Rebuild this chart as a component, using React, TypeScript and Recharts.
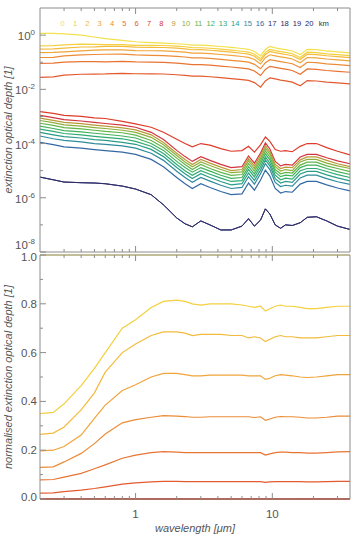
import { LineChart, Line, XAxis, YAxis, Legend } from "recharts";

// wavelength grid in micrometres
const wavelength = [
  0.2, 0.25, 0.3, 0.4, 0.5, 0.6, 0.8, 1.0, 1.3, 1.6, 2.0, 2.3, 2.6, 3.0, 3.5, 4.2, 5.0,
  6.0, 6.7, 7.4, 8.2, 8.9, 9.6, 10.5, 11.5, 12.5, 14, 16, 18, 21, 25, 30, 37,
];

// total column optical depth from the ground (0 km)
const tau0km = [
  1.15, 1.15, 1.12, 1.0, 0.85, 0.74, 0.64, 0.57, 0.53, 0.51, 0.48, 0.46, 0.43, 0.43, 0.41, 0.38, 0.35,
  0.32, 0.3, 0.25, 0.17, 0.3, 0.38, 0.34, 0.31, 0.29, 0.26, 0.19, 0.3, 0.29, 0.26, 0.24, 0.22,
];

// optical depth above 1..6 km relative to the ground value
const ratio1km = [
  0.35, 0.355, 0.39, 0.465, 0.535, 0.6, 0.7, 0.735, 0.785, 0.81, 0.815, 0.81, 0.8, 0.795, 0.8, 0.8, 0.8,
  0.795, 0.79, 0.785, 0.79, 0.77, 0.78, 0.79, 0.795, 0.79, 0.79, 0.785, 0.78, 0.78, 0.785, 0.79, 0.79,
];
const ratio2km = [
  0.265, 0.27, 0.295, 0.365, 0.435, 0.52, 0.6, 0.635, 0.67, 0.685, 0.685, 0.68, 0.67, 0.675, 0.675, 0.675, 0.67,
  0.67, 0.66, 0.665, 0.66, 0.645, 0.655, 0.665, 0.67, 0.665, 0.665, 0.66, 0.66, 0.66, 0.665, 0.67, 0.67,
];
const ratio3km = [
  0.197, 0.2, 0.215, 0.262, 0.33, 0.385, 0.445, 0.468, 0.5, 0.515, 0.515, 0.51, 0.505, 0.505, 0.508, 0.508, 0.508,
  0.508, 0.505, 0.505, 0.505, 0.49, 0.495, 0.505, 0.51, 0.508, 0.505, 0.5, 0.498, 0.5, 0.505, 0.51, 0.51,
];
const ratio4km = [
  0.13, 0.132, 0.152, 0.187, 0.227, 0.266, 0.312, 0.325, 0.335, 0.342, 0.34, 0.338, 0.335, 0.335, 0.337, 0.337, 0.337,
  0.337, 0.337, 0.334, 0.337, 0.322, 0.328, 0.335, 0.338, 0.337, 0.337, 0.335, 0.332, 0.332, 0.335, 0.34, 0.34,
];
const ratio5km = [
  0.078, 0.08, 0.09, 0.105, 0.124, 0.14, 0.167, 0.18, 0.19, 0.194, 0.192, 0.19, 0.19, 0.19, 0.19, 0.19, 0.19,
  0.19, 0.19, 0.19, 0.19, 0.18, 0.185, 0.19, 0.192, 0.192, 0.19, 0.19, 0.188, 0.188, 0.19, 0.193, 0.194,
];
const ratio6km = [
  0.024, 0.025, 0.03, 0.036, 0.043, 0.05, 0.061, 0.066, 0.07, 0.072, 0.072, 0.071, 0.071, 0.071, 0.071, 0.071, 0.071,
  0.071, 0.071, 0.071, 0.071, 0.068, 0.07, 0.071, 0.071, 0.071, 0.071, 0.071, 0.07, 0.07, 0.071, 0.072, 0.072,
];

// optical depth above 7..20 km
const tau7km = [
  1.5e-3, 1.3e-3, 1.1e-3, 1.0e-3, 8.9e-4, 8.4e-4, 6.6e-4, 5.3e-4, 4.0e-4, 2.6e-4, 1.45e-4, 1.0e-4, 7.6e-5, 1.0e-4, 8.7e-5, 6.5e-5, 5.2e-5,
  5.5e-5, 7.9e-5, 4.8e-5, 8.9e-5, 1.74e-4, 1.2e-4, 6.0e-5, 5.2e-5, 5.5e-5, 5.0e-5, 7.9e-5, 1.0e-4, 1.0e-4, 7.1e-5, 5.2e-5, 3.8e-5,
];
const tau8km = [
  1.1e-3, 9.1e-4, 7.6e-4, 6.8e-4, 6.0e-4, 5.5e-4, 4.8e-4, 4.0e-4, 2.6e-4, 1.4e-4, 5.6e-5, 3.3e-5, 2.2e-5, 3.3e-5, 2.4e-5, 1.7e-5, 1.3e-5,
  1.4e-5, 3.5e-5, 1.9e-5, 4.5e-5, 1.05e-4, 6.3e-5, 2.2e-5, 1.5e-5, 1.7e-5, 1.6e-5, 3.2e-5, 4.0e-5, 4.0e-5, 3.0e-5, 2.3e-5, 1.8e-5,
];
const tau9km = [
  8.7e-4, 7.2e-4, 6.0e-4, 5.4e-4, 4.8e-4, 4.4e-4, 3.8e-4, 3.2e-4, 2.1e-4, 1.1e-4, 4.4e-5, 2.6e-5, 1.7e-5, 2.6e-5, 1.9e-5, 1.35e-5, 1.0e-5,
  1.1e-5, 2.8e-5, 1.5e-5, 3.6e-5, 8.3e-5, 5.0e-5, 1.7e-5, 1.2e-5, 1.35e-5, 1.3e-5, 2.5e-5, 3.2e-5, 3.2e-5, 2.4e-5, 1.8e-5, 1.4e-5,
];
const tau10km = [
  7.1e-4, 5.9e-4, 4.9e-4, 4.4e-4, 3.9e-4, 3.6e-4, 3.1e-4, 2.6e-4, 1.7e-4, 9.0e-5, 3.6e-5, 2.1e-5, 1.4e-5, 2.1e-5, 1.55e-5, 1.1e-5, 8.4e-6,
  9.0e-6, 2.3e-5, 1.2e-5, 2.9e-5, 6.8e-5, 4.1e-5, 1.4e-5, 9.7e-6, 1.1e-5, 1.0e-5, 2.1e-5, 2.6e-5, 2.6e-5, 1.9e-5, 1.5e-5, 1.2e-5,
];
const tau11km = [
  5.6e-4, 4.7e-4, 3.9e-4, 3.5e-4, 3.1e-4, 2.8e-4, 2.5e-4, 2.05e-4, 1.3e-4, 7.2e-5, 2.9e-5, 1.7e-5, 1.1e-5, 1.7e-5, 1.2e-5, 8.7e-6, 6.7e-6,
  7.2e-6, 1.8e-5, 9.7e-6, 2.3e-5, 5.4e-5, 3.2e-5, 1.1e-5, 7.7e-6, 8.7e-6, 8.2e-6, 1.6e-5, 2.05e-5, 2.05e-5, 1.5e-5, 1.2e-5, 9.2e-6,
];
const tau12km = [
  4.4e-4, 3.6e-4, 3.0e-4, 2.7e-4, 2.4e-4, 2.2e-4, 1.9e-4, 1.6e-4, 1.0e-4, 5.6e-5, 2.2e-5, 1.3e-5, 8.8e-6, 1.3e-5, 9.6e-6, 6.8e-6, 5.2e-6,
  5.6e-6, 1.4e-5, 7.6e-6, 1.8e-5, 4.2e-5, 2.5e-5, 8.8e-6, 6.0e-6, 6.8e-6, 6.4e-6, 1.3e-5, 1.6e-5, 1.6e-5, 1.2e-5, 9.2e-6, 7.2e-6,
];
const tau13km = [
  3.4e-4, 2.8e-4, 2.35e-4, 2.1e-4, 1.85e-4, 1.7e-4, 1.5e-4, 1.2e-4, 8.0e-5, 4.3e-5, 1.7e-5, 1.0e-5, 6.8e-6, 1.0e-5, 7.4e-6, 5.3e-6, 4.0e-6,
  4.3e-6, 1.1e-5, 5.9e-6, 1.4e-5, 3.2e-5, 1.9e-5, 6.8e-6, 4.6e-6, 5.3e-6, 4.9e-6, 9.9e-6, 1.2e-5, 1.2e-5, 9.3e-6, 7.1e-6, 5.6e-6,
];
const tau14km = [
  2.6e-4, 2.1e-4, 1.8e-4, 1.6e-4, 1.4e-4, 1.3e-4, 1.1e-4, 9.4e-5, 6.1e-5, 3.3e-5, 1.3e-5, 7.7e-6, 5.1e-6, 7.7e-6, 5.6e-6, 4.0e-6, 3.0e-6,
  3.3e-6, 8.2e-6, 4.4e-6, 1.05e-5, 2.5e-5, 1.5e-5, 5.1e-6, 3.5e-6, 4.0e-6, 3.7e-6, 7.5e-6, 9.4e-6, 9.4e-6, 7.0e-6, 5.4e-6, 4.2e-6,
];
const tau15km = [
  1.9e-4, 1.5e-4, 1.3e-4, 1.15e-4, 1.0e-4, 9.4e-5, 8.2e-5, 6.8e-5, 4.4e-5, 2.4e-5, 9.5e-6, 5.6e-6, 3.7e-6, 5.6e-6, 4.1e-6, 2.9e-6, 2.2e-6,
  2.4e-6, 6.0e-6, 3.2e-6, 7.7e-6, 1.8e-5, 1.1e-5, 3.7e-6, 2.6e-6, 2.9e-6, 2.7e-6, 5.4e-6, 6.8e-6, 6.8e-6, 5.1e-6, 3.9e-6, 3.1e-6,
];
const tau16km = [
  1.1e-4, 9.1e-5, 7.6e-5, 6.8e-5, 6.0e-5, 5.5e-5, 4.8e-5, 4.0e-5, 2.6e-5, 1.4e-5, 5.6e-6, 3.3e-6, 2.2e-6, 3.3e-6, 2.4e-6, 1.7e-6, 1.3e-6,
  1.4e-6, 3.5e-6, 1.9e-6, 4.5e-6, 1.05e-5, 6.3e-6, 2.2e-6, 1.5e-6, 1.7e-6, 1.6e-6, 3.2e-6, 4.0e-6, 4.0e-6, 3.0e-6, 2.3e-6, 1.8e-6,
];
// 17, 18, 19 and 20 km lie on top of each other
const tau17to20km = [
  5.8e-6, 4.6e-6, 3.8e-6, 3.6e-6, 3.5e-6, 3.3e-6, 2.7e-6, 2.1e-6, 1.3e-6, 5.5e-7, 1.8e-7, 1.1e-7, 8.5e-8, 1.4e-7, 1.0e-7, 6.5e-8, 6.5e-8,
  9.0e-8, 1.7e-7, 9.0e-8, 1.5e-7, 3.9e-7, 2.5e-7, 1.0e-7, 7.5e-8, 1.0e-7, 9.5e-8, 1.2e-7, 1.9e-7, 2.0e-7, 1.4e-7, 9.0e-8, 6.8e-8,
];

const kmLabels = ["0", "1", "2", "3", "4", "5", "6", "7", "8", "9", "10", "11", "12", "13", "14", "15", "16", "17", "18", "19", "20"];
const kmColors = [
  "#f2e14c", "#f4cf3e", "#f3bb3c", "#f0a43a", "#ec8c36", "#e87432", "#e35a2e", "#de3b2a", "#d2343f",
  "#b89a38", "#8fae3c", "#62b548", "#3fb25a", "#2faa72", "#2b9c88", "#2e8a9c", "#3468a4",
  "#2b2f6e", "#29296a", "#272667", "#252464",
];

const xTicks = [0.3, 0.4, 0.5, 0.6, 0.7, 0.8, 0.9, 1, 2, 3, 4, 5, 6, 7, 8, 9, 10, 20, 30];
const logTicks = [1e-8, 1e-7, 1e-6, 1e-5, 1e-4, 1e-3, 1e-2, 1e-1, 1];
const linTicks = [0, 0.1, 0.2, 0.3, 0.4, 0.5, 0.6, 0.7, 0.8, 0.9, 1.0];

const upperRatios = [ratio1km, ratio2km, ratio3km, ratio4km, ratio5km, ratio6km];
const lowerTau = [
  tau7km, tau8km, tau9km, tau10km, tau11km, tau12km, tau13km, tau14km, tau15km, tau16km,
  tau17to20km, tau17to20km, tau17to20km, tau17to20km,
];

// t<k>: optical depth above k km, n<k>: same normalised by the ground value
const rows = wavelength.map((wl, i) => {
  const tau = [tau0km[i], ...upperRatios.map((r) => tau0km[i] * r[i]), ...lowerTau.map((s) => s[i])];
  const row: Record<string, number> = { wl };
  tau.forEach((v, k) => {
    row[`t${k}`] = v;
    row[`n${k}`] = v / tau0km[i];
  });
  return row;
});

const FONT = '"Liberation Sans", Arial, Helvetica, sans-serif';
const FRAME = "#8c8c8c";
const TEXT = "#555";
const MAJOR = 6;
const MINOR = 3;

// the stacked 17-20 km lines are drawn thinner so together they read as one line
const lineWidth = (k: number) => (k >= 17 ? 0.6 : 1.2);

const isDecade = (v: number) => Math.abs(Math.log10(v) - Math.round(Math.log10(v))) < 1e-6;

const XTick = ({ x = 0, y = 0, payload, side, withLabel }: any) => {
  const v = payload?.value ?? 1;
  const major = isDecade(v);
  const dir = side === "bottom" ? -1 : 1;
  return (
    <g>
      <line x1={x} x2={x} y1={y} y2={y + dir * (major ? MAJOR : MINOR)} stroke={FRAME} />
      {withLabel && major && (
        <text x={x} y={y + 19} textAnchor="middle" fontSize={11.5} fill={TEXT} fontFamily={FONT}>
          {v}
        </text>
      )}
    </g>
  );
};

const LogYTick = ({ x = 0, y = 0, payload, side }: any) => {
  const e = Math.round(Math.log10(payload?.value ?? 1));
  const major = e % 2 === 0;
  const dir = side === "left" ? 1 : -1;
  const shift = e === -8 ? -8 : 0;
  return (
    <g>
      <line x1={x} x2={x + dir * (major ? MAJOR : MINOR)} y1={y} y2={y} stroke={FRAME} />
      {side === "left" && major && (
        <text x={x - 5} y={y + 5 + shift} textAnchor="end" fontSize={11.5} fill={TEXT} fontFamily={FONT}>
          <tspan>10</tspan>
          <tspan dy={-5} fontSize={8}>{e}</tspan>
        </text>
      )}
    </g>
  );
};

const LinYTick = ({ x = 0, y = 0, payload, side }: any) => {
  const v = payload?.value ?? 0;
  const major = Math.round(v * 10) % 2 === 0;
  const dir = side === "left" ? 1 : -1;
  const shift = v === 0 ? -2 : v === 1 ? 2 : 0;
  return (
    <g>
      <line x1={x} x2={x + dir * (major ? MAJOR : MINOR)} y1={y} y2={y} stroke={FRAME} />
      {side === "left" && major && (
        <text x={x - 3} y={y + 4 + shift} textAnchor="end" fontSize={11.5} fill={TEXT} fontFamily={FONT}>
          {v.toFixed(1)}
        </text>
      )}
    </g>
  );
};

// altitude key, in the same order as the series
const KmLegend = () => (
  <div style={{ position: "relative", height: 10, lineHeight: "10px", fontFamily: FONT, fontSize: 7.6 }}>
    {kmLabels.map((km, i) => (
      <span
        key={km}
        style={{ position: "absolute", left: 62.7 + i * 12.33, transform: "translateX(-50%)", color: kmColors[i] }}
      >
        {km}
      </span>
    ))}
    <span style={{ position: "absolute", left: 323.7, transform: "translateX(-50%)", color: "#333" }}>km</span>
  </div>
);

const titleStyle = { fontSize: 11, fontStyle: "italic", fill: TEXT, fontFamily: FONT };

// axes are 1px thick so that Recharts still draws them; ticks point into the frame
const axisCommon = {
  interval: 0 as const,
  tickSize: 0,
  tickMargin: 0,
  tickLine: false,
  axisLine: { stroke: FRAME },
};

const App = () => {
  return (
    <div style={{ position: "absolute", left: 0, top: 0, width: 353, height: 540, background: "#fff" }}>
      <div style={{ position: "absolute", left: 0, top: 0 }}>
        <LineChart width={353} height={260} data={rows} margin={{ top: 7, right: 2, bottom: 7, left: 39 }}>
          <XAxis xAxisId="b" dataKey="wl" type="number" scale="log" domain={[0.2, 37]} ticks={xTicks} height={1}
            {...axisCommon} tick={(p: any) => <XTick {...p} side="bottom" />} />
          <XAxis xAxisId="t" orientation="top" dataKey="wl" type="number" scale="log" domain={[0.2, 37]} ticks={xTicks}
            height={1} {...axisCommon} tick={(p: any) => <XTick {...p} side="top" />} />
          <YAxis yAxisId="l" type="number" scale="log" domain={[1e-8, 10]} ticks={logTicks} width={1} {...axisCommon}
            tick={(p: any) => <LogYTick {...p} side="left" />}
            label={{ value: "extinction optical depth [1]", angle: -90, position: "center", dx: -31, ...titleStyle }} />
          <YAxis yAxisId="r" orientation="right" type="number" scale="log" domain={[1e-8, 10]} ticks={logTicks} width={1}
            {...axisCommon} tick={(p: any) => <LogYTick {...p} side="right" />} />
          <Legend layout="vertical" verticalAlign="middle" align="center" content={<KmLegend />}
            wrapperStyle={{ top: 19, left: 0, width: 353 }} />
          {kmLabels.map((km, k) => (
            <Line key={km} xAxisId="b" yAxisId="l" type="linear" dataKey={`t${k}`} name={km} stroke={kmColors[k]}
              strokeWidth={lineWidth(k)} dot={false} isAnimationActive={false} />
          ))}
        </LineChart>
      </div>
      <div style={{ position: "absolute", left: 0, top: 247 }}>
        <LineChart width={353} height={293} data={rows} margin={{ top: 7, right: 2, bottom: 40, left: 39 }}>
          <XAxis xAxisId="b" dataKey="wl" type="number" scale="log" domain={[0.2, 37]} ticks={xTicks} height={1}
            {...axisCommon} tick={(p: any) => <XTick {...p} side="bottom" withLabel />}
            label={{ value: "wavelength [μm]", position: "bottom", offset: 24, ...titleStyle }} />
          <XAxis xAxisId="t" orientation="top" dataKey="wl" type="number" scale="log" domain={[0.2, 37]} ticks={xTicks}
            height={1} {...axisCommon} tick={(p: any) => <XTick {...p} side="top" />} />
          <YAxis yAxisId="l" type="number" domain={[0, 1]} ticks={linTicks} width={1} {...axisCommon}
            tick={(p: any) => <LinYTick {...p} side="left" />}
            label={{ value: "normalised extinction optical depth [1]", angle: -90, position: "center", dx: -31, ...titleStyle }} />
          <YAxis yAxisId="r" orientation="right" type="number" domain={[0, 1]} ticks={linTicks} width={1}
            {...axisCommon} tick={(p: any) => <LinYTick {...p} side="right" />} />
          {kmLabels
            .map((km, k) => (
              <Line key={km} xAxisId="b" yAxisId="l" type="linear" dataKey={`n${k}`} name={km} stroke={kmColors[k]}
                strokeWidth={lineWidth(k)} dot={false} isAnimationActive={false} />
            ))
            .reverse()}
        </LineChart>
      </div>
    </div>
  );
};

export default App;
